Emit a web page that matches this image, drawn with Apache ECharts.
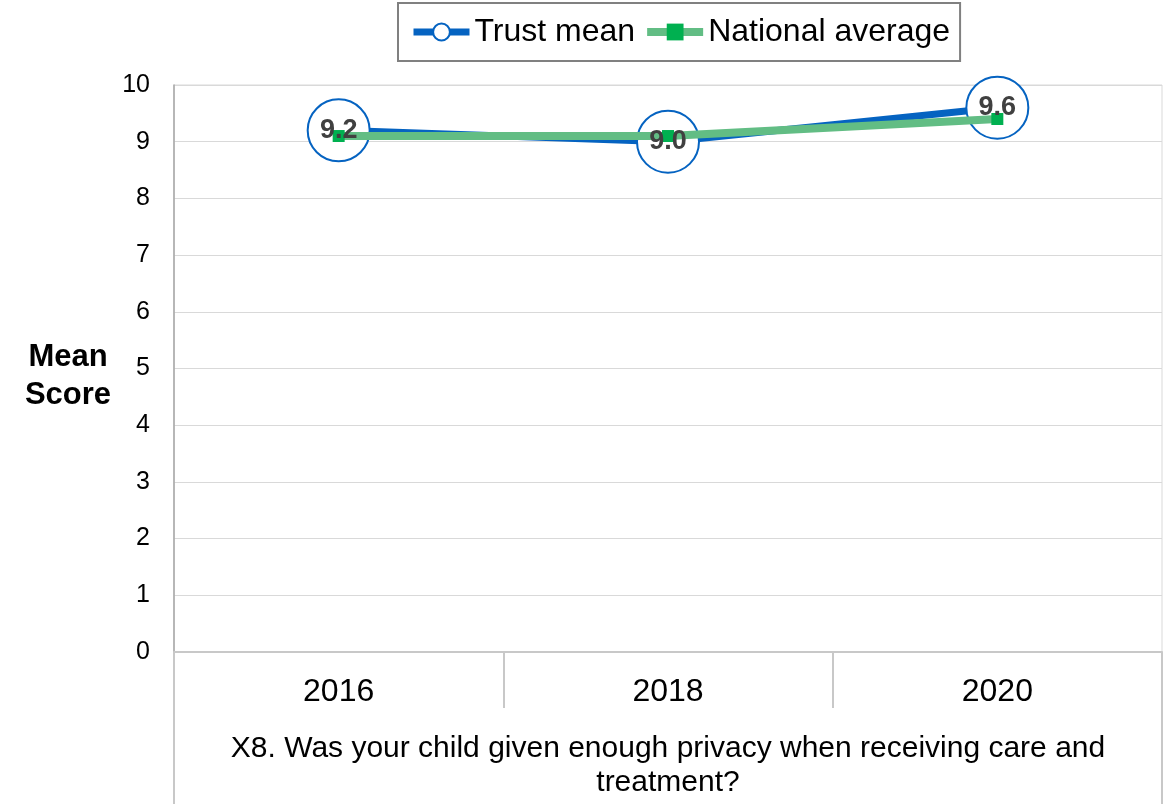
<!DOCTYPE html>
<html>
<head>
<meta charset="utf-8">
<script src="https://cdn.jsdelivr.net/npm/echarts@6/dist/echarts.min.js"></script>
<style>
  html, body { margin: 0; padding: 0; background: #fff; }
  #chart { width: 1166px; height: 804px; }
</style>
</head>
<body>
<div id="chart"></div>
<script>
const years = ['2016', '2018', '2020']
const question = ['X8. Was your child given enough privacy when receiving care and\ntreatment?']
const trustMean = [9.2, 9.0, 9.6]
const nationalAverage = [9.1, 9.1, 9.4]
const yTicks = [0, 10, 1] // min, max, step

const font = 'Liberation Sans, Arial, sans-serif'
const gridGray = '#d9d9d9'
const axisGray = '#c8c8c8'
const blue = '#0563c1'
const green = '#62bd84'

const chart = echarts.init(document.getElementById('chart'))

chart.setOption({
  animation: false,
  textStyle: { fontFamily: font },
  legend: {
    top: 3,
    left: 398,
    padding: [13, 10, 13, 12],
    itemWidth: 56,
    itemHeight: 21,
    itemGap: 8,
    borderColor: '#808080',
    borderWidth: 2,
    textStyle: { fontSize: 32, color: '#000', fontFamily: font },
    data: [
      { name: 'Trust mean', lineStyle: { width: 7 } },
      { name: 'National average', lineStyle: { width: 8 } }
    ]
  },
  grid: {
    left: 174, right: 4, top: 85, bottom: 152,
    show: true, borderColor: gridGray, borderWidth: 1
  },
  xAxis: [
    {
      type: 'category',
      data: years,
      boundaryGap: true,
      axisLine: { lineStyle: { color: axisGray, width: 2 } },
      axisTick: { show: true, interval: 0, length: 56, lineStyle: { color: axisGray, width: 2 } },
      axisLabel: { fontSize: 32, color: '#000', margin: 24, fontFamily: font },
      splitLine: { show: false }
    },
    {
      type: 'category',
      data: question,
      position: 'bottom',
      boundaryGap: true,
      axisLine: { show: false },
      axisTick: { show: true, length: 152, lineStyle: { color: axisGray, width: 2 } },
      axisLabel: { fontSize: 30, color: '#000', margin: 80, lineHeight: 34, align: 'center', fontFamily: font },
      splitLine: { show: false }
    }
  ],
  yAxis: {
    type: 'value',
    min: yTicks[0],
    max: yTicks[1],
    interval: yTicks[2],
    // small empty first line pushes the two words down a little
    name: '{gap| }\nMean\nScore',
    nameLocation: 'middle',
    nameRotate: 0,
    nameGap: 106,
    nameTextStyle: {
      fontSize: 31, fontWeight: 'bold', color: '#000', align: 'center',
      verticalAlign: 'middle', lineHeight: 38, fontFamily: font,
      rich: { gap: { fontSize: 8, lineHeight: 15 } }
    },
    axisLine: { show: true, lineStyle: { color: '#a6a6a6', width: 1.5 } },
    axisTick: { show: false },
    axisLabel: { fontSize: 25, color: '#000', margin: 24, fontFamily: font },
    splitLine: { lineStyle: { color: gridGray, width: 1 } }
  },
  series: [
    {
      name: 'Trust mean',
      type: 'line',
      z: 2,
      data: trustMean,
      symbol: 'circle',
      symbolSize: 62,
      lineStyle: { color: blue, width: 7 },
      itemStyle: { color: '#fff', borderColor: blue, borderWidth: 2 }
    },
    {
      name: 'National average',
      type: 'line',
      z: 3,
      data: nationalAverage,
      symbol: 'rect',
      symbolSize: 12,
      lineStyle: { color: green, width: 8 },
      itemStyle: { color: '#00b050' }
    },
    {
      // labels for the trust mean, kept above the national line
      name: 'Trust mean labels',
      type: 'line',
      z: 5,
      data: trustMean,
      symbol: 'circle',
      symbolSize: 2,
      itemStyle: { color: 'transparent', borderWidth: 0 },
      lineStyle: { opacity: 0 },
      silent: true,
      label: {
        show: true,
        position: 'inside',
        formatter: p => p.value.toFixed(1),
        fontSize: 27,
        fontWeight: 'bold',
        color: '#404040',
        fontFamily: font
      }
    }
  ]
})
</script>
</body>
</html>
